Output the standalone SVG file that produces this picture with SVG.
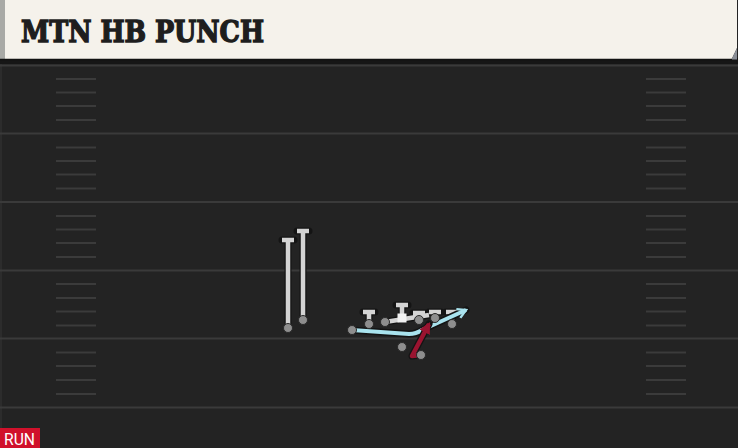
<svg xmlns="http://www.w3.org/2000/svg" width="738" height="448" viewBox="0 0 738 448">
<defs>
<style>
.yl{stroke:#3a3a3a;stroke-width:2}
.hm{stroke:#3b3b3b;stroke-width:2}
.out{fill:none;stroke:#141414;stroke-width:7;stroke-linecap:round;stroke-linejoin:round}
.gl{fill:none;stroke:#d4d4d4;stroke-width:4.5;stroke-linecap:butt;stroke-linejoin:round}
.bl{fill:none;stroke:#a9e3ee;stroke-width:4;stroke-linejoin:round}
.rd{fill:none;stroke:#9a1430;stroke-width:4.5;stroke-linejoin:round}
.dot{fill:#8e8e8e;stroke:#2a2a2a;stroke-width:1}
.title{font-family:"DejaVu Serif",serif;font-weight:bold;font-size:29px;fill:#1e1e1e;stroke:#1e1e1e;stroke-width:1.4}
.run{font-family:Roboto,"Liberation Sans",sans-serif;font-size:16px;fill:#ffffff}
</style>
<marker id="ab" viewBox="0 0 10 10" refX="8" refY="5" markerWidth="3" markerHeight="3" orient="auto" markerUnits="strokeWidth"><path d="M1,1 L8,5 L1,9" fill="none" stroke="#a9e3ee" stroke-width="2"/></marker>
<marker id="ar" viewBox="0 0 10 10" refX="8" refY="5" markerWidth="2.6" markerHeight="2.6" orient="auto" markerUnits="strokeWidth"><path d="M0,0 L10,5 L0,10 z" fill="#9a1430"/></marker>
</defs>
<g id="field">
<rect x="0" y="0" width="738" height="448" fill="#232323"/>
<rect x="0" y="58" width="738" height="6" fill="#161616"/>
<line x1="1" y1="64" x2="1" y2="448" stroke="#2c2c2c" stroke-width="2"/>
<g class="yl">
<line x1="0" y1="65.5" x2="738" y2="65.5"/>
<line x1="0" y1="133.5" x2="738" y2="133.5"/>
<line x1="0" y1="202" x2="738" y2="202"/>
<line x1="0" y1="270.5" x2="738" y2="270.5"/>
<line x1="0" y1="338.5" x2="738" y2="338.5"/>
<line x1="0" y1="407.5" x2="738" y2="407.5"/>
</g>
<g class="hm">
<path d="M56,79H96M56,92.5H96M56,106H96M56,120H96M56,147.5H96M56,161H96M56,174.5H96M56,188.5H96M56,216H96M56,229.5H96M56,243H96M56,257H96M56,284H96M56,298H96M56,311.5H96M56,325.5H96M56,352.5H96M56,366H96M56,380H96M56,394H96"/>
<path d="M646,79H686M646,92.5H686M646,106H686M646,120H686M646,147.5H686M646,161H686M646,174.5H686M646,188.5H686M646,216H686M646,229.5H686M646,243H686M646,257H686M646,284H686M646,298H686M646,311.5H686M646,325.5H686M646,352.5H686M646,366H686M646,380H686M646,394H686"/>
</g>
</g>
<g id="header">
<path d="M0,0 H737 V48 L731.5,59.5 H0 Z" fill="#f5f2eb"/>
<path d="M737,48 L731.5,59.5 H737 Z" fill="#8a8e96"/>
<rect x="0" y="0" width="5" height="59.5" fill="#a9aaa6"/>
<line x1="0" y1="59.5" x2="732" y2="59.5" stroke="#111" stroke-width="1.5"/>
<text class="title" x="21" y="42" textLength="243" lengthAdjust="spacingAndGlyphs">MTN HB PUNCH</text>
</g>
<g id="connectors">
<g id="route-wr1">
<path class="out" d="M288,328 V240 M282,240 H294"/>
<path class="gl" d="M288,328 V240 M282,240 H294"/>
</g>
<g id="route-wr2">
<path class="out" d="M303,320 V231 M297,231 H309"/>
<path class="gl" d="M303,320 V231 M297,231 H309"/>
</g>
<g id="blocks">
<path class="out" d="M369,324 V312 M363,312 H375 M402,318 V305 M396,305 H408 M419,320 V313 M413,313 H425 M435,318 V312 M429,312 H441 M452,324 V312 M446,312 H458 M385,322 L429,315"/>
<path class="gl" d="M369,324 V312 M363,312 H375 M402,318 V305 M396,305 H408 M419,320 V313 M413,313 H425 M435,318 V312 M429,312 H441 M452,324 V312 M446,312 H458 M385,322 L429,315"/>
</g>
<g id="route-te">
<path class="out" d="M352,330 L409,334 Q416,334 422,330 L466,310"/>
<path class="bl" d="M352,330 L409,334 Q416,334 422,330 L466,310" marker-end="url(#ab)"/>
</g>
<g id="route-hb">
<path class="out" d="M421,355 L412,356 L429,324"/>
<path class="rd" d="M421,355 L412,356 L429,324" marker-end="url(#ar)"/>
</g>
</g>
<g id="players">
<g id="wr1"><circle class="dot" cx="288" cy="328" r="4.5"/></g>
<g id="wr2"><circle class="dot" cx="303" cy="320" r="4.5"/></g>
<g id="te-left"><circle class="dot" cx="352" cy="330" r="4.5"/></g>
<g id="lt"><circle class="dot" cx="369" cy="324" r="4.5"/></g>
<g id="lg"><circle class="dot" cx="385" cy="322" r="4.5"/></g>
<g id="center"><rect x="397.5" y="313.5" width="9" height="9" fill="#f2f2f2"/></g>
<g id="rg"><circle class="dot" cx="419" cy="320" r="4.5"/></g>
<g id="rt"><circle class="dot" cx="435" cy="318" r="4.5"/></g>
<g id="te-right"><circle class="dot" cx="452" cy="324" r="4.5"/></g>
<g id="qb"><circle class="dot" cx="402" cy="347" r="4.5"/></g>
<g id="hb"><circle class="dot" cx="421" cy="355" r="4.5"/></g>
</g>
<g id="badge">
<rect x="0" y="428" width="40" height="20" fill="#d0112b"/>
<text class="run" x="4" y="445" textLength="31" lengthAdjust="spacingAndGlyphs">RUN</text>
</g>
</svg>
